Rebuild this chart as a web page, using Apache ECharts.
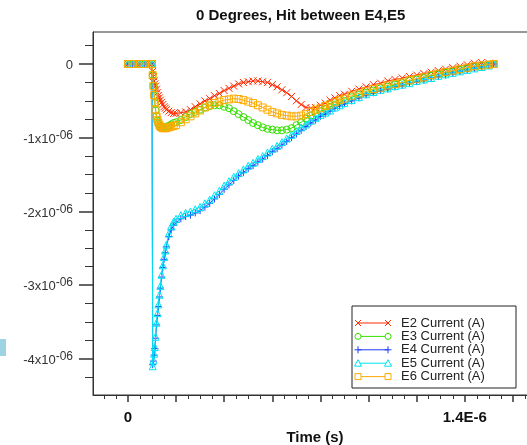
<!DOCTYPE html>
<html>
<head>
<meta charset="utf-8">
<script src="https://cdn.jsdelivr.net/npm/echarts@6/dist/echarts.min.js"></script>
<style>
html,body{margin:0;padding:0;background:#fff;}
#chart{width:527px;height:445px;}
</style>
</head>
<body>
<div id="chart"></div>
<script>
// time in microseconds, current in microamperes
const times = [0, 0.02, 0.05, 0.07, 0.1,
  0.103, 0.106, 0.109, 0.112, 0.115, 0.119, 0.123, 0.127, 0.131, 0.135, 0.14, 0.145, 0.15, 0.155, 0.16,
  0.17, 0.18, 0.19, 0.2,
  0.22, 0.24, 0.26, 0.28, 0.3, 0.32, 0.34, 0.36, 0.38, 0.4,
  0.42, 0.44, 0.46, 0.48, 0.5, 0.52, 0.54, 0.56, 0.58, 0.6,
  0.62, 0.64, 0.66, 0.68, 0.7, 0.72, 0.74, 0.76, 0.78, 0.8,
  0.82, 0.84, 0.86, 0.88, 0.9,
  0.93, 0.96, 0.99, 1.02, 1.05, 1.08, 1.11, 1.14, 1.17, 1.2,
  1.23, 1.26, 1.29, 1.32, 1.35, 1.38, 1.41, 1.44, 1.47, 1.5,
  1.52];

const e2 = [0, 0, 0, 0, 0,
  -0.10, -0.17, -0.23, -0.27, -0.30, -0.34, -0.39, -0.43, -0.46, -0.49, -0.52, -0.55, -0.58, -0.60, -0.62,
  -0.64, -0.66, -0.67, -0.67,
  -0.66, -0.65, -0.62, -0.58, -0.54, -0.50, -0.47, -0.43, -0.40, -0.36,
  -0.33, -0.30, -0.27, -0.25, -0.24, -0.23, -0.23, -0.24, -0.25, -0.28,
  -0.31, -0.35, -0.39, -0.44, -0.50, -0.55, -0.59, -0.60, -0.59, -0.56,
  -0.53, -0.49, -0.46, -0.43, -0.41,
  -0.37, -0.34, -0.31, -0.28, -0.26, -0.23, -0.21, -0.19, -0.17, -0.15,
  -0.13, -0.11, -0.09, -0.07, -0.05, -0.03, -0.01, 0.01, 0.02, 0.01,
  0];

const e3 = [0, 0, 0, 0, 0,
  -0.15, -0.30, -0.43, -0.53, -0.63, -0.71, -0.77, -0.81, -0.84, -0.86, -0.87, -0.87, -0.86, -0.86, -0.85,
  -0.84, -0.82, -0.80, -0.79,
  -0.76, -0.72, -0.68, -0.65, -0.62, -0.59, -0.57, -0.56, -0.56, -0.58,
  -0.60, -0.64, -0.68, -0.72, -0.76, -0.80, -0.83, -0.86, -0.88, -0.89,
  -0.90, -0.90, -0.89, -0.87, -0.83, -0.79, -0.74, -0.70, -0.67, -0.64,
  -0.61, -0.58, -0.55, -0.52, -0.50,
  -0.45, -0.42, -0.39, -0.36, -0.33, -0.31, -0.28, -0.26, -0.23, -0.21,
  -0.19, -0.16, -0.14, -0.12, -0.10, -0.08, -0.06, -0.04, -0.02, -0.01,
  0];

const e4 = [0, 0, 0, 0, 0,
  -4.08, -4.03, -3.95, -3.86, -3.72, -3.54, -3.41, -3.29, -3.16, -3.04, -2.89, -2.76, -2.65, -2.56, -2.48,
  -2.34, -2.25, -2.19, -2.15,
  -2.10, -2.07, -2.05, -2.02, -1.99, -1.94, -1.89, -1.83, -1.77, -1.70,
  -1.64, -1.58, -1.52, -1.47, -1.42, -1.38, -1.33, -1.29, -1.24, -1.19,
  -1.15, -1.10, -1.05, -1.00, -0.95, -0.90, -0.85, -0.80, -0.76, -0.71,
  -0.68, -0.64, -0.60, -0.57, -0.54,
  -0.50, -0.46, -0.42, -0.39, -0.36, -0.34, -0.31, -0.29, -0.26, -0.24,
  -0.22, -0.19, -0.17, -0.15, -0.12, -0.10, -0.08, -0.06, -0.04, -0.02,
  0];

const e5 = [0, 0, 0, 0, 0,
  -4.10, -4.02, -3.93, -3.84, -3.70, -3.51, -3.38, -3.26, -3.13, -3.01, -2.86, -2.73, -2.62, -2.53, -2.45,
  -2.30, -2.20, -2.14, -2.10,
  -2.05, -2.02, -2.00, -1.97, -1.94, -1.89, -1.84, -1.78, -1.72, -1.65,
  -1.59, -1.53, -1.48, -1.43, -1.38, -1.34, -1.29, -1.25, -1.20, -1.15,
  -1.11, -1.06, -1.01, -0.96, -0.91, -0.86, -0.82, -0.77, -0.73, -0.69,
  -0.66, -0.63, -0.59, -0.56, -0.53,
  -0.49, -0.45, -0.41, -0.38, -0.35, -0.33, -0.30, -0.28, -0.26, -0.23,
  -0.21, -0.19, -0.16, -0.14, -0.12, -0.10, -0.08, -0.06, -0.04, -0.02,
  0];

const e6 = [0, 0, 0, 0, 0,
  -0.15, -0.30, -0.42, -0.52, -0.62, -0.71, -0.76, -0.80, -0.83, -0.85, -0.86, -0.87, -0.87, -0.87, -0.87,
  -0.86, -0.85, -0.84, -0.83,
  -0.79, -0.75, -0.71, -0.67, -0.63, -0.59, -0.56, -0.53, -0.51, -0.49,
  -0.48, -0.47, -0.475, -0.49, -0.51, -0.53, -0.56, -0.59, -0.62, -0.65,
  -0.67, -0.69, -0.70, -0.71, -0.71, -0.70, -0.68, -0.65, -0.62, -0.60,
  -0.57, -0.55, -0.52, -0.49, -0.47,
  -0.43, -0.40, -0.37, -0.34, -0.32, -0.29, -0.27, -0.25, -0.22, -0.20,
  -0.18, -0.15, -0.13, -0.11, -0.09, -0.07, -0.05, -0.03, -0.02, -0.01,
  0];

const seriesNames = ['E2 Current (A)', 'E3 Current (A)', 'E4 Current (A)', 'E5 Current (A)', 'E6 Current (A)'];
const seriesValues = [e2, e3, e4, e5, e6];

const xMajorTicks = [0, 0.2, 0.4, 0.6, 0.8, 1.0, 1.2, 1.4, 1.6];
const xMinorTicks = [-0.1, -0.05, 0.05, 0.1, 0.15, 0.25, 0.3, 0.35, 0.45, 0.5, 0.55, 0.65, 0.7, 0.75,
  0.85, 0.9, 0.95, 1.05, 1.1, 1.15, 1.25, 1.3, 1.35, 1.45, 1.5, 1.55, 1.65];
const xLabelValues = [0, 1.4];
const xTickLabels = ['0', '1.4E-6'];

const yMajorTicks = [0, -1, -2, -3, -4];
const yMinorTicks = [0.25, -0.25, -0.5, -0.75, -1.25, -1.5, -1.75, -2.25, -2.5, -2.75, -3.25, -3.5, -3.75, -4.25];
const yLabelValues = [0, -1, -2, -3, -4];
const yTickLabels = ['0', '-1x10', '-2x10', '-3x10', '-4x10'];
const yTickExp = ['', '-06', '-06', '-06', '-06'];

const colors = ['#ff2a00', '#33e000', '#1f3dff', '#00e4f2', '#ffaa00'];
const symbols = ['path://M0,0L10,10M10,0L0,10', 'circle', 'path://M5,0L5,10M0,5L10,5', 'triangle', 'rect'];
const legendShapes = ['cross', 'circle', 'plus', 'triangle', 'square'];

const FONT = '"Liberation Sans", Arial, Helvetica, sans-serif';
const X_MIN = -0.145, X_MAX = 1.7, Y_MIN = -4.49, Y_MAX = 0.434;

const chart = echarts.init(document.getElementById('chart'), null, {renderer: 'canvas'});

const series = seriesValues.map((vals, i) => ({
  name: seriesNames[i],
  type: 'line',
  xAxisIndex: 0,
  yAxisIndex: 0,
  data: times.map((t, k) => [t, vals[k]]),
  symbol: symbols[i],
  symbolSize: 7,
  showAllSymbol: true,
  lineStyle: {color: colors[i], width: 1},
  itemStyle: {color: 'rgba(0,0,0,0)', borderColor: colors[i], borderWidth: 1},
  emphasis: {disabled: true},
  z: 2 + i
}));

// legend drawn as graphic elements
const legendEls = [];
const LX = 352, LY = 306, LW = 164, LH = 82;
legendEls.push({type: 'rect', shape: {x: LX, y: LY, width: LW, height: LH},
  style: {fill: '#fff', stroke: '#222', lineWidth: 1}, z: 100});
function legendSymbol(kind, cx, cy, col) {
  const st = {stroke: col, lineWidth: 1, fill: '#fff'};
  if (kind === 'cross') return [
    {type: 'line', shape: {x1: cx - 3, y1: cy - 3, x2: cx + 3, y2: cy + 3}, style: st, z: 102},
    {type: 'line', shape: {x1: cx + 3, y1: cy - 3, x2: cx - 3, y2: cy + 3}, style: st, z: 102}];
  if (kind === 'plus') return [
    {type: 'line', shape: {x1: cx, y1: cy - 3.5, x2: cx, y2: cy + 3.5}, style: st, z: 102},
    {type: 'line', shape: {x1: cx - 3.5, y1: cy, x2: cx + 3.5, y2: cy}, style: st, z: 102}];
  if (kind === 'circle') return [{type: 'circle', shape: {cx: cx, cy: cy, r: 3}, style: st, z: 102}];
  if (kind === 'triangle') return [{type: 'polygon', shape: {points: [[cx, cy - 3.5], [cx + 3.5, cy + 3], [cx - 3.5, cy + 3]]}, style: st, z: 102}];
  return [{type: 'rect', shape: {x: cx - 3, y: cy - 3, width: 6, height: 6}, style: st, z: 102}];
}
seriesNames.forEach((nm, i) => {
  const cy = 323 + i * 13.4;
  legendEls.push({type: 'line', shape: {x1: 358, y1: cy, x2: 388, y2: cy},
    style: {stroke: colors[i], lineWidth: 1}, z: 101});
  legendSymbol(legendShapes[i], 358, cy, colors[i]).forEach(e => legendEls.push(e));
  legendSymbol(legendShapes[i], 388, cy, colors[i]).forEach(e => legendEls.push(e));
  legendEls.push({type: 'text', x: 401, y: cy, z: 102,
    style: {text: nm, fill: '#222', font: '13px ' + FONT, textVerticalAlign: 'middle', verticalAlign: 'middle'}});
});
legendEls.push({type: 'rect', shape: {x: 0, y: 339, width: 6, height: 17}, style: {fill: '#9dd3e3'}, z: 100});

const axisCol = '#333';

const option = {
  animation: false,
  backgroundColor: '#fff',
  title: {
    text: '0 Degrees, Hit between E4,E5',
    left: 196, top: 8, padding: 0,
    textStyle: {fontFamily: FONT, fontSize: 15, fontWeight: 'bold', color: '#111'}
  },
  grid: {left: 93, top: 32, right: -10, bottom: 50, show: true, borderColor: '#333', borderWidth: 1,
    backgroundColor: 'transparent', containLabel: false, outerBoundsMode: 'none'},
  xAxis: [{
    type: 'value', min: X_MIN, max: X_MAX, position: 'bottom',
    axisLine: {show: true, onZero: false, lineStyle: {color: axisCol, width: 1}},
    axisTick: {show: true, inside: false, length: 7, customValues: xMajorTicks, lineStyle: {color: axisCol, width: 1.5}},
    axisLabel: {show: true, customValues: xLabelValues, margin: 15,
      fontFamily: FONT, fontSize: 15, fontWeight: 'bold', color: '#111',
      formatter: v => { const k = xLabelValues.indexOf(v); return k >= 0 ? xTickLabels[k] : ''; }},
    splitLine: {show: false},
    name: 'Time (s)', nameLocation: 'middle', nameGap: 33,
    nameTextStyle: {fontFamily: FONT, fontSize: 15, fontWeight: 'bold', color: '#111'}
  }, {
    type: 'value', min: X_MIN, max: X_MAX, position: 'bottom',
    axisLine: {show: false, onZero: false},
    axisTick: {show: true, inside: false, length: 4, customValues: xMinorTicks, lineStyle: {color: axisCol, width: 1}},
    axisLabel: {show: false},
    splitLine: {show: false}
  }],
  yAxis: [{
    type: 'value', min: Y_MIN, max: Y_MAX, position: 'left',
    axisLine: {show: true, onZero: false, lineStyle: {color: axisCol, width: 1}},
    axisTick: {show: true, inside: false, length: 14, customValues: yMajorTicks, lineStyle: {color: axisCol, width: 1.5}},
    axisLabel: {show: true, customValues: yLabelValues, margin: 20,
      formatter: v => { const k = yLabelValues.indexOf(v); if (k < 0) return '';
        return yTickExp[k] ? '{b|' + yTickLabels[k] + '}{s|' + yTickExp[k] + '}' : '{b|' + yTickLabels[k] + '}'; },
      rich: {
        b: {fontFamily: FONT, fontSize: 13, color: '#333', lineHeight: 16, verticalAlign: 'bottom'},
        s: {fontFamily: FONT, fontSize: 12, color: '#333', lineHeight: 4, verticalAlign: 'top'}
      }},
    splitLine: {show: false}
  }, {
    type: 'value', min: Y_MIN, max: Y_MAX, position: 'left',
    axisLine: {show: false, onZero: false},
    axisTick: {show: true, inside: false, length: 8, customValues: yMinorTicks, lineStyle: {color: axisCol, width: 1}},
    axisLabel: {show: false},
    splitLine: {show: false}
  }],
  graphic: {elements: legendEls},
  series: series
};
chart.setOption(option);
</script>
</body>
</html>
